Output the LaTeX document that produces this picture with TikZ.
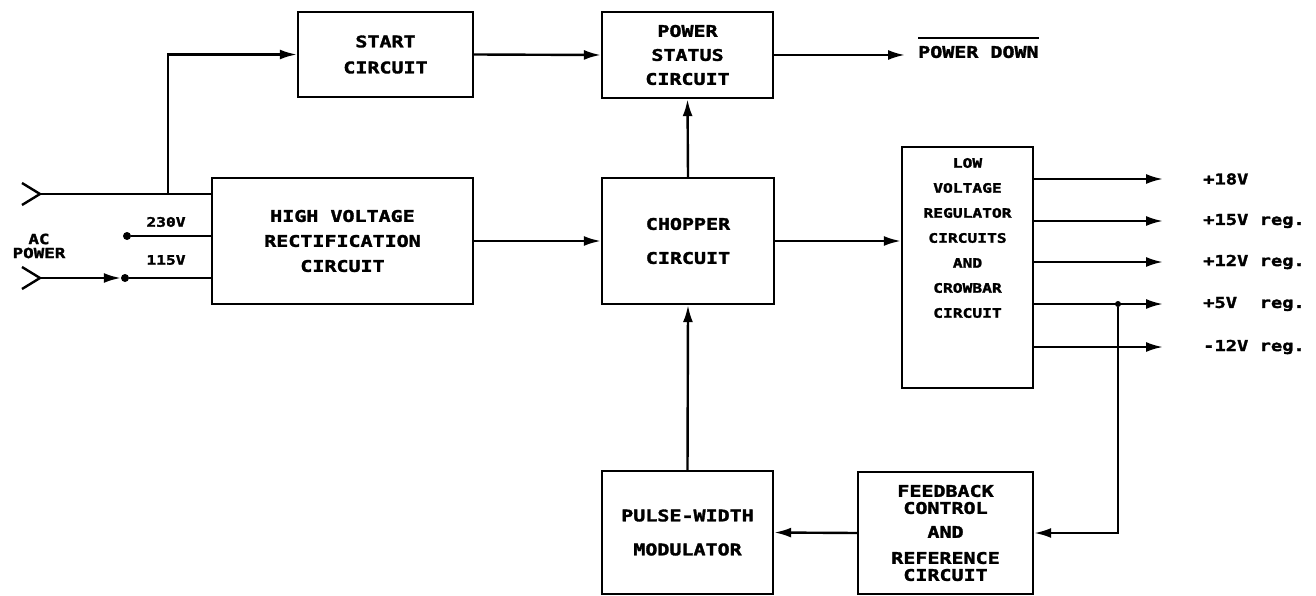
\documentclass[tikz,border=0pt]{standalone}
\usepackage{fontspec}
\setmainfont{DejaVu Sans Mono}[FakeStretch=1.25, BoldFeatures={FakeBold=2}]
\usetikzlibrary{arrows.meta}

\begin{document}
\begin{tikzpicture}[
  x=1pt,
  y=-1pt,
  box/.style={
      rectangle,
      draw,
      line width=2.4pt,
      text centered,
      align=center,
      inner sep=0pt,
      font=\fontsize{16}{25}\selectfont\bfseries
  },
  lbl/.style={
      inner sep=0pt,
      font=\fontsize{15}{15}\selectfont\bfseries
  },
  arrow/.style={
      -{Latex[length=17pt,width=10pt]},
      line width=2.4pt
  },
  wire/.style={
      line width=2.4pt
  },
  dot/.style={
      circle,
      fill,
      inner sep=0pt,
      minimum size=8pt
  }
]

\useasboundingbox (0,0) rectangle (1316,596);

% ==================================================
% AC Input
% ==================================================

\coordinate (acA) at (40,194);
\coordinate (acB) at (40,278);
\coordinate (tap) at (168,194);

\draw[wire] (22,183) -- (acA) -- (22,205);
\draw[wire] (22,267) -- (acB) -- (22,289);

\node[dot]
      (sw230) at (127,236) {};

\node[dot]
      (sw115) at (125,278) {};

\node[lbl,
      align=center,
      font=\fontsize{14}{14}\selectfont\bfseries]
      (ac) at (39,246)
      {AC\\POWER};

\node[lbl,
      font=\fontsize{13}{13}\selectfont\bfseries]
      (v230) at (166,222)
      {230V};

\node[lbl,
      font=\fontsize{13}{13}\selectfont\bfseries]
      (v115) at (166,260)
      {115V};

% ==================================================
% Upper Row
% ==================================================

\node[box,
      minimum width=175pt,
      minimum height=85pt,
      font=\fontsize{16}{26}\selectfont\bfseries]
      (start) at (385.5,54.5)
      {START\\CIRCUIT};

\node[box,
      minimum width=171pt,
      minimum height=86pt,
      font=\fontsize{16}{24}\selectfont\bfseries]
      (status) at (687.5,55)
      {POWER\\STATUS\\CIRCUIT};

\node[lbl,
      anchor=west,
      font=\fontsize{16}{16}\selectfont\bfseries]
      (pd) at (918,52)
      {POWER DOWN};

% ==================================================
% Middle Row
% ==================================================

\node[box,
      minimum width=261pt,
      minimum height=126pt]
      (hv) at (342.5,241)
      {HIGH VOLTAGE\\RECTIFICATION\\CIRCUIT};

\node[box,
      minimum width=172pt,
      minimum height=126pt]
      (chop) at (688,241)
      {CHOPPER\\[9pt]CIRCUIT};

\node[box,
      minimum width=131pt,
      minimum height=241pt]
      (lv) at (967.5,267.5)
      {};

\node[lbl,
      align=center,
      font=\fontsize{13}{25}\selectfont\bfseries]
      (lvtext) at (967.5,238)
      {LOW\\VOLTAGE\\REGULATOR\\CIRCUITS\\AND\\CROWBAR\\CIRCUIT};

% ==================================================
% Outputs
% ==================================================

\coordinate (o18) at (1163,179);
\coordinate (o15) at (1163,221);
\coordinate (o12) at (1163,262);
\coordinate (o5)  at (1163,304);
\coordinate (om12) at (1163,347);

\node[lbl, anchor=west] (t18) at (1203,179) {+18V};
\node[lbl, anchor=west] (t15) at (1203,221) {+15V reg.};
\node[lbl, anchor=west] (t12) at (1203,262) {+12V reg.};
\node[lbl, anchor=west] (t5) at (1203,304) {+5V\ \ reg.};
\node[lbl, anchor=west] (tm12) at (1203,347) {-12V reg.};

\node[dot,
      minimum size=6pt]
      (j5) at (1118,304) {};

% ==================================================
% Lower Row
% ==================================================

\node[box,
      minimum width=171pt,
      minimum height=123pt,
      font=\fontsize{16}{25}\selectfont\bfseries]
      (pwm) at (687.5,532.5)
      {PULSE-WIDTH\\[9pt]MODULATOR};

\node[box,
      minimum width=175pt,
      minimum height=122pt,
      font=\fontsize{16}{17}\selectfont\bfseries]
      (fb) at (945.5,533)
      {FEEDBACK\\CONTROL\\[7pt]AND\\[9pt]REFERENCE\\CIRCUIT};

% ==================================================
% Connections
% ==================================================

\draw[wire]
      (acA)
      -- (acA -| hv.west);

\draw[arrow]
      (tap)
      |- (start.west);

\draw[wire]
      (sw230)
      -- (sw230 -| hv.west);

\draw[arrow]
      (acB)
      -- (sw115.west);

\draw[wire]
      (sw115)
      -- (sw115 -| hv.west);

\draw[arrow]
      (start.east)
      -- (status.west);

\draw[arrow,
      shorten >=13pt]
      (status.east)
      -- (status.east -| pd.west);

\draw[line width=1.8pt]
      ([yshift=8pt]pd.north west)
      -- ([yshift=8pt]pd.north east);

\draw[arrow]
      (hv.east)
      -- (chop.west);

\draw[arrow]
      (chop.north)
      -- (status.south);

\draw[arrow]
      (chop.east)
      -- (chop.east -| lv.west);

\draw[arrow] (o18 -| lv.east) -- (o18);
\draw[arrow] (o15 -| lv.east) -- (o15);
\draw[arrow] (o12 -| lv.east) -- (o12);
\draw[arrow] (o5 -| lv.east) -- (o5);
\draw[arrow] (om12 -| lv.east) -- (om12);

\draw[arrow]
      (j5)
      |- (fb.east);

\draw[arrow]
      (fb.west)
      -- (pwm.east);

\draw[arrow]
      (pwm.north)
      -- (chop.south);

\end{tikzpicture}
\end{document}
